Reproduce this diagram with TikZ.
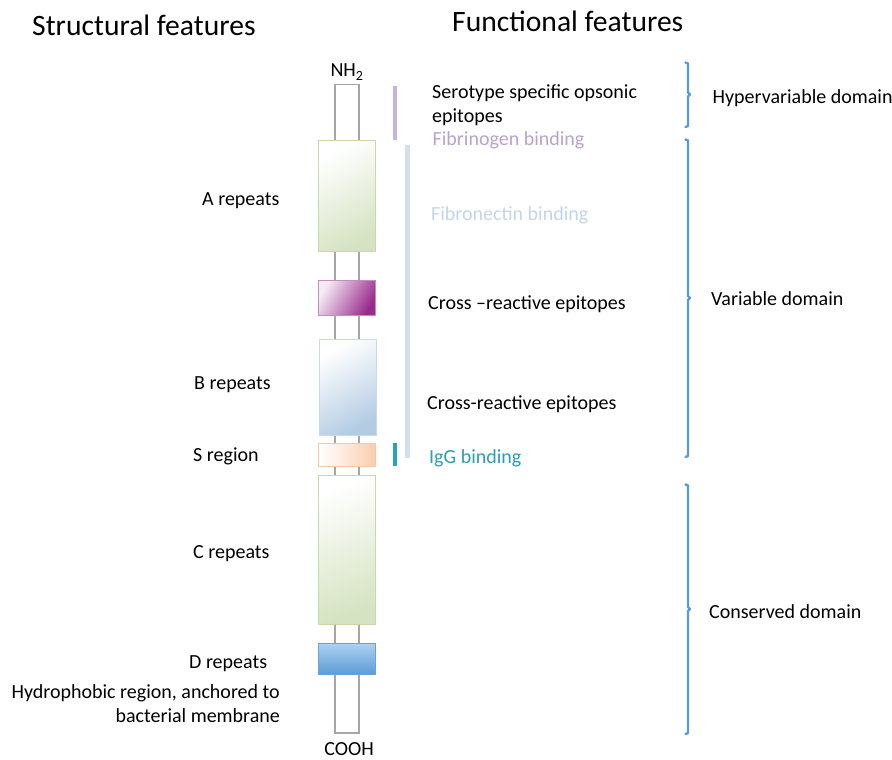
\documentclass[tikz,border=0pt]{standalone}
\usepackage{fontspec}
\setmainfont{Carlito}
\definecolor{stalk}{HTML}{A6A6A6}
\definecolor{brace}{HTML}{5B9BD5}
\definecolor{fibg}{HTML}{B9A2CB}
\definecolor{fibn}{HTML}{C3D5EA}
\definecolor{igg}{HTML}{2C9DB2}
\definecolor{pbar}{HTML}{C8B4D6}
\definecolor{bbar}{HTML}{D3DFEA}
\definecolor{tbar}{HTML}{2AA2B9}
\definecolor{greenB}{HTML}{C8DAAC}
\definecolor{greenF}{HTML}{D6E3C2}
\definecolor{purpB}{HTML}{C58CC0}
\definecolor{purpF}{HTML}{982C8C}
\definecolor{blueB}{HTML}{C9D9EA}
\definecolor{blueF}{HTML}{B3CCE4}
\definecolor{peachB}{HTML}{F8C9A6}
\definecolor{peachF}{HTML}{FBCDAE}
\definecolor{dB}{HTML}{6AA3D6}
\definecolor{dTop}{HTML}{AED2F2}
\definecolor{dBot}{HTML}{5E9CD6}
\tikzset{
  lbl/.style={anchor=base west, inner sep=0pt, font=\fontsize{20}{23.5}\selectfont},
  ttl/.style={anchor=base west, inner sep=0pt, font=\fontsize{29.6}{34}\selectfont},
  bracket/.style={draw=brace, line width=2.4pt, line join=round, line cap=round},
}
\begin{document}
\begin{tikzpicture}[x=1pt,y=-1pt]
\useasboundingbox (0,0) rectangle (892,760);
% titles
\node[ttl] (t1) at (32,36) {Structural features};
\node[ttl] (t2) at (452,32) {Functional features};
% stalk
\filldraw[fill=white, draw=stalk, line width=1.5pt] (335,84.5) rectangle (359,733);
\node[anchor=base, inner sep=0pt, font=\fontsize{20}{24}\selectfont] (nh2) at (347,77) {NH\textsubscript{2}};
\node[anchor=base, inner sep=0pt, font=\fontsize{20}{24}\selectfont] (cooh) at (349,755) {COOH};
% boxes
\shade[draw=greenB, line width=1pt, top color=white, bottom color=greenF, shading angle=30] (318.5,140.5) rectangle (375,251);
\shade[draw=purpB, line width=1pt, top color=purpF!10, bottom color=purpF, shading angle=60] (318.5,280.5) rectangle (375,315);
\shade[draw=blueB, line width=1pt, top color=white, bottom color=blueF, shading angle=30] (319.5,339.5) rectangle (376,435);
\shade[draw=peachB, line width=1pt, left color=white, right color=peachF] (318.5,443.5) rectangle (375.5,466);
\shade[draw=greenB, line width=1pt, top color=white, bottom color=greenF, shading angle=20] (318.5,475.5) rectangle (375,624);
\shade[draw=dB, line width=1pt, top color=dTop, bottom color=dBot] (318.5,643) rectangle (375,674);
% functional bars
\draw[pbar, line width=4pt] (395,86) -- (395,140);
\draw[bbar, line width=5pt] (407.5,145) -- (407.5,458);
\draw[tbar, line width=3.5pt] (395,443) -- (395,466);
% left labels
\node[lbl] (a) at (202,205) {A repeats};
\node[lbl] (b) at (194,389) {B repeats};
\node[lbl] (s) at (193,461) {S region};
\node[lbl] (c) at (193,558) {C repeats};
\node[lbl] (d) at (189,668) {D repeats};
\node[lbl, anchor=base east, align=right] (h) at (280,722) {Hydrophobic region, anchored to\\bacterial membrane};
% functional labels
\node[lbl, align=left] (sero) at (432,122) {Serotype specific opsonic\\epitopes};
\node[lbl, text=fibg] (fg) at (432.5,145) {Fibrinogen binding};
\node[lbl, text=fibn] (fn) at (431,220.5) {Fibronectin binding};
\node[lbl] (cr1) at (428,309) {Cross –reactive epitopes};
\node[lbl] (cr2) at (427,409.5) {Cross-reactive epitopes};
\node[lbl, text=igg] (ig) at (429,463) {IgG binding};
% brackets
\draw[bracket] (685.5,62.5) -- (688,63.5) -- (688,92.5) -- (690,94.5) -- (688,96.5) -- (688,126) -- (685.5,127);
\draw[bracket] (685.5,139.5) -- (688,140.5) -- (688,296) -- (690,298) -- (688,300) -- (688,456) -- (685.5,457);
\draw[bracket] (685.5,484.5) -- (688,485.5) -- (688,607) -- (690,609) -- (688,611) -- (688,733) -- (685.5,734);
% domain labels
\node[lbl] (hv) at (712.5,103.5) {Hypervariable domain};
\node[lbl] (vd) at (711,305) {Variable domain};
\node[lbl] (cd) at (709,618) {Conserved domain};
\end{tikzpicture}
\end{document}
